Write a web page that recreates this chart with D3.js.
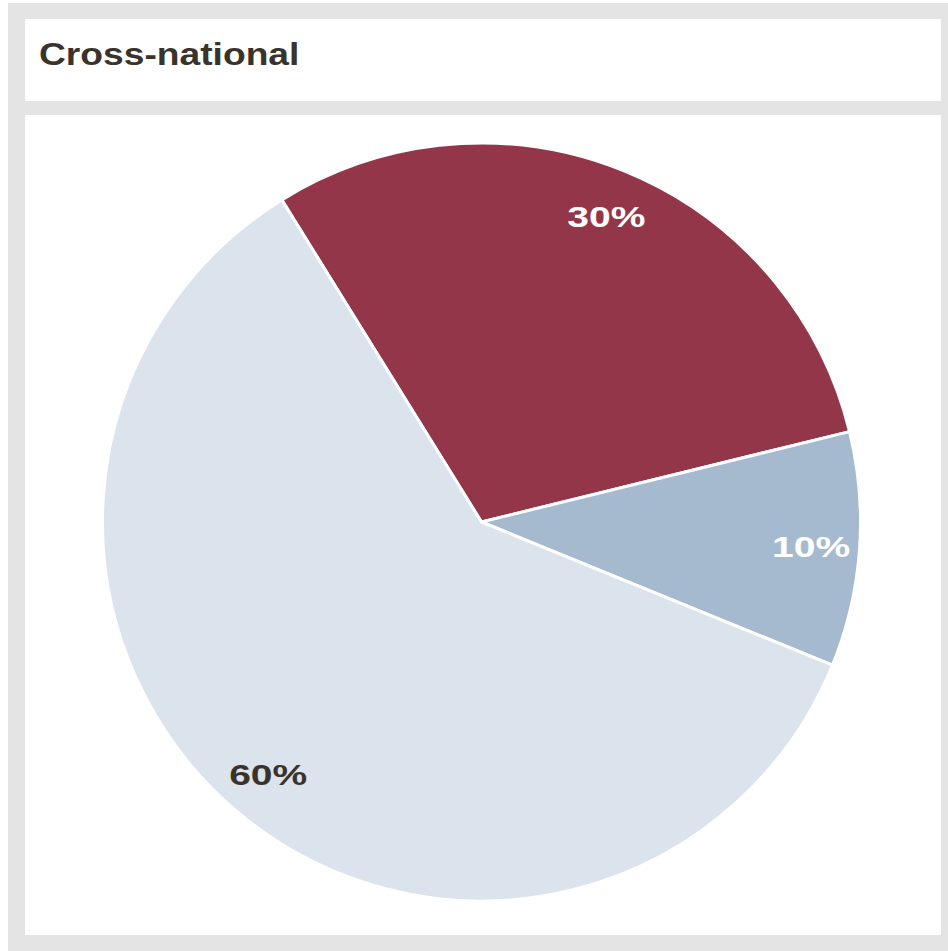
<!DOCTYPE html>
<html>
<head>
<meta charset="utf-8">
<script src="https://cdn.jsdelivr.net/npm/d3@7"></script>
<style>
  html, body { margin: 0; padding: 0; background: #ffffff; }
  svg { display: block; }
</style>
</head>
<body>
<script>
// Share of respondents by category
const categories = ["A", "B", "C"];
const shares = [30, 10, 60];
const labels = ["30%", "10%", "60%"];
const colors = ["#94364a", "#a5bacf", "#dbe3ec"];
const labelColors = ["#ffffff", "#ffffff", "#3a332c"];
const title = "Cross-national";

const W = 948, H = 951;
const FONT = "'Liberation Sans', Arial, Helvetica, sans-serif";
const svg = d3.select("body").append("svg").attr("width", W).attr("height", H);

// panel frame
svg.append("rect").attr("x", 8).attr("y", 3).attr("width", 940).attr("height", 948).attr("fill", "#e4e4e4");
svg.append("rect").attr("x", 25).attr("y", 19).attr("width", 916).attr("height", 82).attr("fill", "#ffffff");
svg.append("rect").attr("x", 25).attr("y", 115).attr("width", 916).attr("height", 820).attr("fill", "#ffffff");

// title, set in a wide bold face
svg.append("text")
  .attr("transform", "translate(39,65) scale(1.2,1)")
  .attr("font-family", FONT)
  .attr("font-weight", "bold")
  .attr("font-size", 31)
  .attr("fill", "#3a332c")
  .text(title);

const cx = 481.5, cy = 522, R = 379;
const start = -31.8 * Math.PI / 180;

const pie = d3.pie().sort(null).value(d => d.v)
  .startAngle(start).endAngle(start + 2 * Math.PI);
const data = categories.map((c, i) => ({ c, v: shares[i], label: labels[i], color: colors[i], lc: labelColors[i] }));
const arcs = pie(data);

const arc = d3.arc().innerRadius(0).outerRadius(R);
const labelArc = d3.arc().innerRadius(R * 0.872).outerRadius(R * 0.872);

const g = svg.append("g").attr("transform", `translate(${cx},${cy})`);

g.selectAll("path.slice").data(arcs).join("path")
  .attr("class", "slice")
  .attr("d", arc)
  .attr("fill", d => d.data.color)
  .attr("stroke", "#ffffff")
  .attr("stroke-width", 3)
  .attr("stroke-linejoin", "round");

g.selectAll("text.lbl").data(arcs).join("text")
  .attr("class", "lbl")
  .attr("transform", d => `translate(${labelArc.centroid(d)}) scale(1.3,1)`)
  .attr("text-anchor", "middle")
  .attr("dy", "0.36em")
  .attr("font-family", FONT)
  .attr("font-weight", "bold")
  .attr("font-size", 30)
  .attr("fill", d => d.data.lc)
  .text(d => d.data.label);
</script>
</body>
</html>
